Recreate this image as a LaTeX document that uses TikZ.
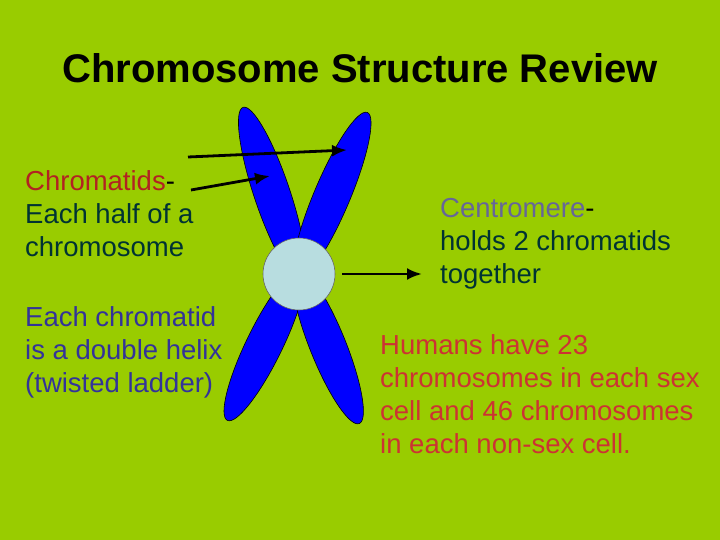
\documentclass[tikz,border=0pt]{standalone}
\usepackage{fontspec}
\setmainfont{Liberation Sans}
\usetikzlibrary{arrows.meta}
\definecolor{bg}{HTML}{99CC00}
\definecolor{arm}{HTML}{0000FF}
\definecolor{cen}{HTML}{B8DDE0}
\definecolor{dred}{HTML}{B22222}
\definecolor{dteal}{HTML}{003333}
\definecolor{tblue}{HTML}{333399}
\definecolor{tpurp}{HTML}{666699}
\definecolor{hred}{HTML}{CC3333}
\begin{document}
\begin{tikzpicture}[x=1pt,y=-1pt,
  txt/.style={anchor=north west,align=left,font=\fontsize{27.5}{33}\selectfont,inner sep=0pt},
  armst/.style={fill=arm,draw=black,line width=0.6pt},
  ptr/.style={-{Latex[length=15pt,width=12pt]},line width=2.8pt}]
\fill[bg] (0,0) rectangle (720,540);
\useasboundingbox (0,0) rectangle (720,540);
\node[font=\fontsize{40}{46}\selectfont\bfseries] (title) at (360,68) {Chromosome Structure Review};
% arms
\foreach \tx/\ty in {245/113,365/118,230/415,357/418}{
  \pgfmathsetmacro\mx{(\tx+299)/2}
  \pgfmathsetmacro\my{(\ty+274)/2}
  \pgfmathsetmacro\len{veclen(\tx-299,\ty-274)/2+6}
  \pgfmathsetmacro\ang{-atan2(\ty-274,\tx-299)}
  \draw[armst,rotate around={\ang:(\mx,\my)}] (\mx,\my) ellipse ({\len} and 18);
}
\node[circle,minimum size=72pt,fill=cen,draw=black!60,line width=0.6pt,inner sep=0pt] (c) at (299,274) {};
\coordinate (a1s) at (188,157); \coordinate (a1e) at (347,150);
\coordinate (a2s) at (191,190); \coordinate (a2e) at (270,176);
\coordinate (a3s) at (342,274); \coordinate (a3e) at (422,274);
\draw[ptr] (a1s) -- (a1e);
\draw[ptr] (a2s) -- (a2e);
\draw[ptr] (a3s) -- (a3e);
\node[txt] (t1) at (25,170) {\textcolor{dred}{Chromatids}-\\\textcolor{dteal}{Each half of a}\\\textcolor{dteal}{chromosome}};
\node[txt,text=tblue] (t2) at (25,306) {Each chromatid\\is a double helix\\(twisted ladder)};
\node[txt] (t3) at (440,198) {\textcolor{tpurp}{Centromere}-\\\textcolor{dteal}{holds 2 chromatids}\\\textcolor{dteal}{together}};
\node[txt,text=hred] (t4) at (380,334) {Humans have 23\\chromosomes in each sex\\cell and 46 chromosomes\\in each non-sex cell.};
\end{tikzpicture}
\end{document}
